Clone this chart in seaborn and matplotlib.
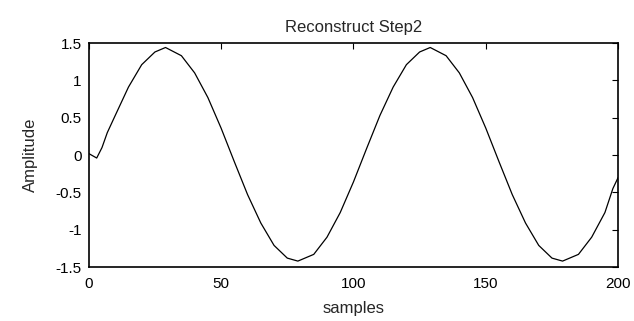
import matplotlib
matplotlib.use('Agg')
import matplotlib.pyplot as plt
import seaborn as sns
import pandas as pd

# valores (aprox.)
muestras = [0, 1, 3, 5, 7, 10, 15, 20, 25, 29, 35, 40, 45, 50, 55, 60, 65, 70, 75, 79,
            85, 90, 95, 100, 105, 110, 115, 120, 125, 129, 135, 140, 145, 150, 155,
            160, 165, 170, 175, 179, 185, 190, 195, 198, 200]
amplitud = [0.02, 0.0, -0.04, 0.10, 0.30, 0.53, 0.91, 1.21, 1.38, 1.44, 1.33, 1.10, 0.77, 0.36, -0.09,
            -0.53, -0.91, -1.21, -1.38, -1.42, -1.33, -1.10, -0.77, -0.36, 0.09,
            0.53, 0.91, 1.21, 1.38, 1.44, 1.33, 1.10, 0.77, 0.36, -0.09,
            -0.53, -0.91, -1.21, -1.38, -1.42, -1.33, -1.10, -0.77, -0.45, -0.30]

xticks = [0, 50, 100, 150, 200]
yticks = [-1.5, -1, -0.5, 0, 0.5, 1, 1.5]
yticklabels = ['-1.5', '-1', '-0.5', '0', '0.5', '1', '1.5']

datos = pd.DataFrame({'samples': muestras, 'Amplitude': amplitud})

sns.set_style('white')
plt.rcParams['font.family'] = ['Liberation Sans', 'DejaVu Sans']
plt.rcParams['axes.unicode_minus'] = False

fig = plt.figure(figsize=(6.34, 3.21), dpi=100)
ax = fig.add_axes([0.140, 0.168, 0.835, 0.698])

sns.lineplot(data=datos, x='samples', y='Amplitude', ax=ax, color='black', linewidth=0.9)

ax.set_xlim(0, 200)
ax.set_ylim(-1.5, 1.5)
ax.set_xticks(xticks)
ax.set_xticklabels([str(t) for t in xticks])
ax.set_yticks(yticks)
ax.set_yticklabels(yticklabels)
ax.tick_params(direction='in', length=4, width=0.8, top=True, right=True,
               labelsize=11, colors='black')
ax.tick_params(axis='x', pad=7)
ax.tick_params(axis='y', pad=5)

for lado in ax.spines.values():
    lado.set_visible(True)
    lado.set_color('black')
    lado.set_linewidth(1.2)

ax.set_title('Reconstruct Step2', fontsize=12, pad=8)
ax.set_xlabel('samples', fontsize=12, labelpad=7)
ax.set_ylabel('Amplitude', fontsize=12, labelpad=13)

plt.savefig('out.png', dpi=100)
plt.close()
